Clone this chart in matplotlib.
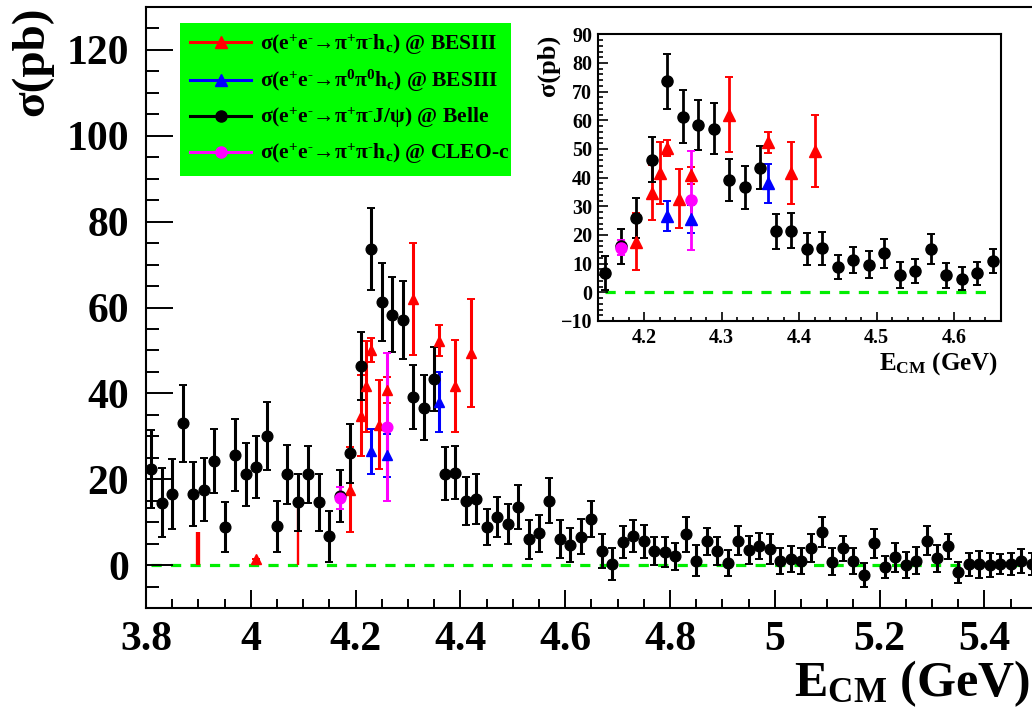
import numpy as np
import matplotlib
matplotlib.use("Agg")
from matplotlib import pyplot as plt
from matplotlib.lines import Line2D
from matplotlib.patches import Rectangle
from matplotlib.ticker import MultipleLocator, FuncFormatter

plt.rcParams['font.family'] = ['Liberation Serif', 'DejaVu Serif']
plt.rcParams['font.weight'] = 'bold'
plt.rcParams['axes.labelweight'] = 'bold'
plt.rcParams['mathtext.fontset'] = 'custom'
plt.rcParams['mathtext.rm'] = 'Liberation Serif:bold'
plt.rcParams['mathtext.it'] = 'Liberation Serif:bold'
plt.rcParams['mathtext.bf'] = 'Liberation Serif:bold'

# Belle, e+e- -> pi+ pi- J/psi (ISR), 20 MeV bins
belle_e = [3.81, 3.83, 3.85, 3.87, 3.89, 3.91, 3.93, 3.95, 3.97, 3.99,
           4.01, 4.03, 4.05, 4.07, 4.09, 4.11, 4.13, 4.15, 4.17, 4.19,
           4.21, 4.23, 4.25, 4.27, 4.29, 4.31, 4.33, 4.35, 4.37, 4.39,
           4.41, 4.43, 4.45, 4.47, 4.49, 4.51, 4.53, 4.55, 4.57, 4.59,
           4.61, 4.63, 4.65, 4.67, 4.69, 4.71, 4.73, 4.75, 4.77, 4.79,
           4.81, 4.83, 4.85, 4.87, 4.89, 4.91, 4.93, 4.95, 4.97, 4.99,
           5.01, 5.03, 5.05, 5.07, 5.09, 5.11, 5.13, 5.15, 5.17, 5.19,
           5.21, 5.23, 5.25, 5.27, 5.29, 5.31, 5.33, 5.35, 5.37, 5.39,
           5.41, 5.43, 5.45, 5.47, 5.49]
belle_xs = [22.4, 14.5, 16.5, 33.0, 16.5, 17.6, 24.2, 8.8, 25.6, 21.1,
            22.8, 30.1, 9.0, 21.1, 14.6, 21.1, 14.6, 6.7, 16.1, 26.0,
            46.3, 73.6, 61.3, 58.3, 57.1, 39.2, 36.7, 43.4, 21.3, 21.5,
            15.0, 15.3, 8.8, 11.2, 9.6, 13.6, 6.0, 7.4, 15.0, 6.0,
            4.7, 6.6, 10.8, 3.3, 0.2, 5.4, 6.8, 5.5, 3.3, 3.0,
            2.0, 7.2, 1.0, 5.5, 3.3, 0.4, 5.7, 3.5, 4.4, 3.7,
            1.0, 1.4, 0.9, 4.0, 7.6, 0.8, 3.9, 1.0, -2.3, 5.1,
            -0.5, 1.8, 0.0, 1.0, 5.7, 1.6, 4.4, -1.7, 0.2, 0.2,
            0.0, 0.2, 0.2, 1.0, 0.2]
belle_err = [9.0, 8.0, 8.1, 8.9, 7.4, 7.3, 7.5, 5.8, 8.4, 7.3,
             7.2, 8.0, 6.0, 6.8, 6.6, 6.7, 6.6, 5.9, 6.1, 6.9,
             7.9, 9.5, 9.1, 8.7, 9.0, 7.4, 7.5, 7.5, 6.1, 6.2,
             5.6, 5.8, 4.2, 4.6, 4.7, 5.1, 4.5, 4.3, 5.2, 4.4,
             4.0, 4.1, 4.2, 4.0, 3.7, 3.8, 3.8, 3.9, 3.3, 3.5,
             3.2, 4.1, 3.6, 3.2, 3.3, 3.0, 3.3, 3.3, 3.1, 3.5,
             3.0, 3.0, 3.0, 3.3, 3.5, 3.2, 2.9, 3.0, 2.8, 3.4,
             2.6, 3.4, 3.0, 3.1, 3.4, 3.1, 2.9, 2.5, 2.7, 3.1,
             2.7, 2.3, 2.5, 2.8, 2.5]

# BESIII, e+e- -> pi+ pi- h_c
bes_pm_e = [4.009, 4.190, 4.210, 4.220, 4.230, 4.245, 4.260, 4.310, 4.360, 4.390, 4.420]
bes_pm_xs = [1.4, 17.6, 34.8, 41.6, 50.2, 32.7, 40.8, 62.0, 52.3, 41.7, 49.4]
bes_pm_err = [0.0, 9.9, 9.5, 10.7, 2.8, 10.3, 3.0, 13.0, 3.7, 10.8, 12.5]
# BESIII, points shown as upper limits only
bes_ul_e = [3.900, 4.090]
bes_ul_xs = [7.7, 14.7]
bes_ul_lw = [3.1, 1.7]

# BESIII, e+e- -> pi0 pi0 h_c
bes_00_e = [4.230, 4.260, 4.360]
bes_00_xs = [26.5, 25.6, 38.0]
bes_00_err = [5.2, 5.0, 6.9]

# CLEO-c, e+e- -> pi+ pi- h_c
cleo_e = [4.170, 4.260]
cleo_xs = [15.6, 32.1]
cleo_err = [2.5, 17.2]

legend_labels = [
    r'σ(e$^{+}$e$^{\text{-}}$→π$^{+}$π$^{\text{-}}$h$_{c}$) @ BESIII',
    r'σ(e$^{+}$e$^{\text{-}}$→π$^{0}$π$^{0}$h$_{c}$) @ BESIII',
    r'σ(e$^{+}$e$^{\text{-}}$→π$^{+}$π$^{\text{-}}$J/ψ) @ Belle',
    r'σ(e$^{+}$e$^{\text{-}}$→π$^{+}$π$^{\text{-}}$h$_{c}$) @ CLEO-c',
]

GREEN = '#00ee00'
W, H = 1032, 713


def draw_points(ax, e_lo, e_hi, ms, elw):
    """Draw all four measurements plus the zero line on one axes."""
    sel = [i for i, e in enumerate(belle_e) if e_lo <= e <= e_hi]
    line_x = [belle_e[sel[0]], belle_e[sel[-1]]]
    ax.plot(line_x, [0, 0], color=GREEN, lw=2.3, ls=(0, (3.2, 2.9)), zorder=1)

    kw = dict(ls='none', elinewidth=elw, capsize=2.6, capthick=1.4, markersize=ms, zorder=2)
    ax.vlines(bes_ul_e, 0, bes_ul_xs, colors='red', linewidths=bes_ul_lw, zorder=2)
    ax.errorbar(bes_pm_e, bes_pm_xs, yerr=bes_pm_err, color='red', marker='^', **kw)
    ax.errorbar(bes_00_e, bes_00_xs, yerr=bes_00_err, color='blue', marker='^', **kw)
    ax.errorbar([belle_e[i] for i in sel], [belle_xs[i] for i in sel],
                yerr=[belle_err[i] for i in sel], color='black', marker='o', **kw)
    ax.errorbar(cleo_e, cleo_xs, yerr=cleo_err, color='magenta', marker='o', **kw)


fmt = FuncFormatter(lambda v, p: '%g' % round(v, 2))

fig = plt.figure(figsize=(W / 100, H / 100), dpi=100)

# main panel
ax = fig.add_axes([146 / W, 1 - 608 / H, 890.8 / W, 601 / H])
draw_points(ax, 3.8, 5.5, 7.7, 2.2)
ax.set_xlim(3.8, 5.5)
ax.set_ylim(-10, 130)
ax.xaxis.set_major_locator(MultipleLocator(0.2))
ax.xaxis.set_minor_locator(MultipleLocator(0.05))
ax.yaxis.set_major_locator(MultipleLocator(20))
ax.yaxis.set_minor_locator(MultipleLocator(5))
ax.xaxis.set_major_formatter(fmt)
ax.tick_params(which='both', direction='in', top=False, right=False, width=1.4)
ax.tick_params(axis='x', which='major', length=13, labelsize=30, pad=9)
ax.tick_params(axis='x', which='minor', length=6.5)
ax.tick_params(axis='y', which='major', length=19.4, labelsize=30, pad=12)
ax.tick_params(axis='y', which='minor', length=9.4)
for s in ax.spines.values():
    s.set_linewidth(1.5)
ax.set_ylabel('σ(pb)', fontsize=34, loc='top')
ax.yaxis.set_label_coords((53 - 146) / 890.8, 1.0)
ax.set_xlabel(r'E$_{\rm CM}$ (GeV)', fontsize=36, loc='right')
ax.xaxis.set_label_coords((1030 - 146) / 890.8, (608 - 658) / 601)

# legend on a green panel
ax.add_patch(Rectangle((180 / W, 1 - 176 / H), 331 / W, 153 / H, transform=fig.transFigure,
                       facecolor='#00ff00', edgecolor='none', clip_on=False, zorder=4))
handles = [
    Line2D([], [], color='red', marker='^', lw=2.2, ms=8),
    Line2D([], [], color='blue', marker='^', lw=2.2, ms=8),
    Line2D([], [], color='black', marker='o', lw=2.2, ms=8),
    Line2D([], [], color='magenta', marker='o', lw=2.2, ms=8),
]
ax.legend(handles, legend_labels, loc='upper left', bbox_to_anchor=(184 / W, 1 - 26 / H),
          bbox_transform=fig.transFigure, frameon=False, fontsize=15.5,
          borderaxespad=0, borderpad=0.3, handlelength=2.8, handletextpad=0.45,
          labelspacing=0.53)

# zoomed inset
axi = fig.add_axes([597.7 / W, 1 - 321 / H, 403 / W, 286.7 / H])
draw_points(axi, 4.14, 4.66, 8.0, 2.0)
axi.set_xlim(4.14, 4.66)
axi.set_ylim(-10, 90)
axi.xaxis.set_major_locator(MultipleLocator(0.1))
axi.xaxis.set_minor_locator(MultipleLocator(0.02))
axi.yaxis.set_major_locator(MultipleLocator(10))
axi.yaxis.set_minor_locator(MultipleLocator(2))
axi.xaxis.set_major_formatter(fmt)
axi.tick_params(which='both', direction='in', top=False, right=False, width=1.2, labelsize=14.5)
axi.tick_params(axis='x', which='major', length=6.5, pad=5)
axi.tick_params(axis='x', which='minor', length=3.2)
axi.tick_params(axis='y', which='major', length=7, pad=4)
axi.tick_params(axis='y', which='minor', length=3.6)
for s in axi.spines.values():
    s.set_linewidth(1.5)
axi.set_ylabel('σ(pb)', fontsize=19, loc='top')
axi.yaxis.set_label_coords((560 - 597.7) / 403, 1.0)
axi.set_xlabel(r'E$_{\rm CM}$ (GeV)', fontsize=18, loc='right')
axi.xaxis.set_label_coords((998 - 597.7) / 403, (321 - 350) / 286.7)

fig.savefig('out.png', dpi=100)
